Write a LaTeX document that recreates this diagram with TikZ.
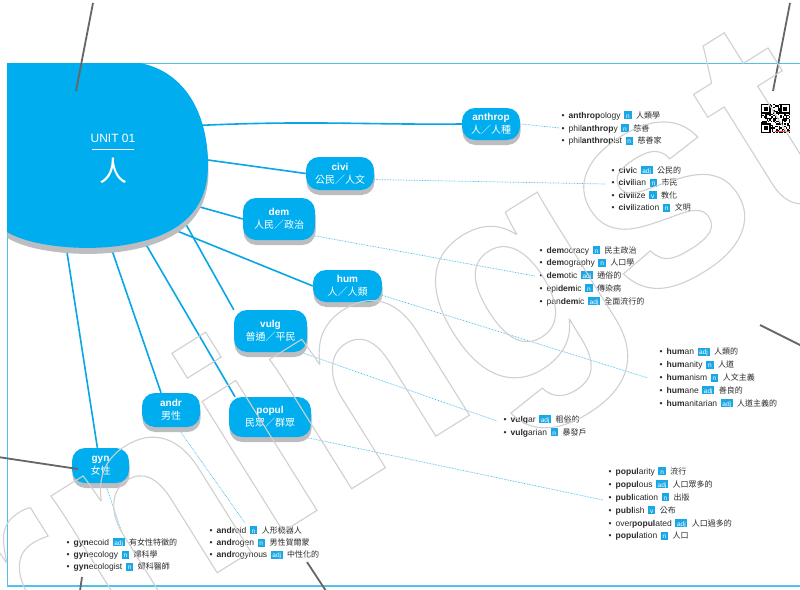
\documentclass[tikz,border=0pt]{standalone}
\usepackage{fontspec}
\setmainfont{Liberation Sans}
\newfontfamily\cjk{Noto Sans CJK TC}
\usetikzlibrary{shadows}
\pgfdeclarelayer{back}
\pgfsetlayers{back,main}
\definecolor{cblue}{HTML}{00AEEF}
\definecolor{lblue}{HTML}{08A6E6}
\definecolor{dblue}{HTML}{3DBAEE}
\definecolor{fblue}{HTML}{4DC2EF}
\definecolor{sgray}{HTML}{BCBDC0}
\definecolor{lgray}{HTML}{666666}
\definecolor{wgray}{HTML}{D0D0D0}
\definecolor{txt}{HTML}{2A2A2A}
\definecolor{tagblue}{HTML}{1AA7E6}
\newcommand\tagbox[2]{{\setlength{\fboxsep}{0pt}\colorbox{tagblue}{\makebox[#1][c]{\rule[-1pt]{0pt}{7.8pt}\color{white}\fontsize{6.5}{7}\selectfont #2}}}}
\newcommand\tn{\tagbox{7.5pt}{n}}
\newcommand\ta{\tagbox{12pt}{adj}}
\newcommand\tv{\tagbox{7.5pt}{v}}
\newcommand\zh[1]{{\cjk\fontsize{8}{10}\selectfont #1}}
\newcommand\ent[5]{#1\textbf{#2}#3\hspace{3.5pt}#4\hspace{4.5pt}\zh{#5}}
\newcommand\wl[4]{\node[wtext] (#1) at (#2,#3) {\textbullet\hspace{4pt}#4};}
\newcommand\zhn[1]{{\cjk\mdseries\fontsize{10}{13}\selectfont #1}}
\tikzset{
  wtext/.style={anchor=base west, inner sep=0pt, text=txt, font=\fontsize{8.5}{10}\selectfont},
  rootnode/.style={fill=cblue, rounded corners=13pt, text=white, align=center, inner sep=0pt,
    font=\bfseries\fontsize{10}{13}\selectfont,
    general shadow={fill=sgray, shadow yshift=-5pt, shadow xshift=0.5pt}},
  conn/.style={draw=lblue, line width=1.6pt},
  dots/.style={draw=dblue, line width=0.7pt, dash pattern=on 0.7pt off 0.9pt},
  leader/.style={draw=lgray, line width=1.8pt},
}
\begin{document}
\begin{tikzpicture}[x=1pt,y=-1pt]
\useasboundingbox (0,0) rectangle (800,589);
% central blob
\begin{scope}[shift={(0.5,6)}]
\fill[sgray] (7,63) -- (140,63) .. controls (186,72) and (208,115) .. (208,165) .. controls (208,212) and (178,238) .. (118,246) .. controls (80,251) and (30,246) .. (7,232) -- cycle;
\end{scope}
\fill[cblue] (7,63) -- (140,63) .. controls (186,72) and (208,115) .. (208,165) .. controls (208,212) and (178,238) .. (118,246) .. controls (80,251) and (30,246) .. (7,232) -- cycle;
\node[text=white, inner sep=0pt, font=\fontsize{12}{12}\selectfont] (unit) at (113,138) {UNIT 01};
\draw[white, line width=0.8pt] (92,149.5) -- (134,149.5);
\node[text=white, inner sep=0pt, font=\cjk\fontsize{28}{28}\selectfont] (ren) at (113,171) {人};
% start points inside the blob
\coordinate (sA) at (150,128);
\coordinate (sC) at (150,152);
\coordinate (sD) at (150,193);
\coordinate (sH) at (150,220);
\coordinate (sV) at (160,178);
\coordinate (sP) at (120,200);
\coordinate (sR) at (105,230);
\coordinate (sG) at (62,220);
% word nodes
\node[rootnode, minimum width=58pt, minimum height=32pt] (anthrop) at (491,124) {anthrop\\\zhn{人／人種}};
\node[rootnode, minimum width=68pt, minimum height=33pt] (civi) at (340,173.5) {civi\\\zhn{公民／人文}};
\node[rootnode, minimum width=72pt, minimum height=42pt] (dem) at (279,219) {dem\\\zhn{人民／政治}};
\node[rootnode, minimum width=69pt, minimum height=32pt] (hum) at (347.5,286) {hum\\\zhn{人／人類}};
\node[rootnode, minimum width=73pt, minimum height=42pt] (vulg) at (270.5,331) {vulg\\\zhn{普通／平民}};
\node[rootnode, minimum width=82pt, minimum height=40pt] (popul) at (270,417) {popul\\\zhn{民眾／群眾}};
\node[rootnode, minimum width=58pt, minimum height=34pt] (andr) at (171,410) {andr\\\zhn{男性}};
\node[rootnode, minimum width=57pt, minimum height=35pt] (gyn) at (100.5,465.5) {gyn\\\zhn{女性}};
% list end points
\coordinate (dA) at (560,128);
\coordinate (dC) at (606,184);
\coordinate (dD) at (535,276);
\coordinate (dH) at (648,378);
\coordinate (dV) at (497,421);
\coordinate (dP) at (603,500);
\coordinate (dR) at (245,523);
\coordinate (dG) at (122,533);
\begin{pgfonlayer}{back}
\fill[white] (0,0) rectangle (800,589);
\draw[fblue, line width=1pt] (800,63) -- (7,63) -- (7,585);
\draw[fblue, line width=2pt] (7,585.5) -- (800,585.5);
\path[conn] (sA) .. controls (300,119) and (350,125) .. (anthrop.west);
\path[conn] (sC) -- (civi.west);
\path[conn] (sD) -- (dem.west);
\path[conn] (sH) -- (hum.west);
\path[conn] (sV) -- (vulg.150);
\path[conn] (sP) -- (popul.150);
\path[conn] (sR) -- (andr.120);
\path[conn] (sG) -- (gyn.100);
\path[dots] (anthrop.east) -- (dA);
\path[dots] (civi.-10) -- (dC);
\path[dots] (dem.-25) -- (dD);
\path[dots] (hum.-15) -- (dH);
\path[dots] (vulg.-35) -- (dV);
\path[dots] (popul.-30) -- (dP);
\path[dots] (andr.-70) -- (dR);
\path[dots] (gyn.-75) -- (dG);
\end{pgfonlayer}
% word lists
\wl{a1}{561.5}{118}{\ent{}{anthrop}{ology}{\tn}{人類學}}
\wl{a2}{561.5}{131}{\ent{phil}{anthrop}{y}{\tn}{慈善}}
\wl{a3}{561.5}{143.5}{\ent{phil}{anthrop}{ist}{\tn}{慈善家}}
\wl{c1}{611.5}{173}{\ent{}{civi}{c}{\ta}{公民的}}
\wl{c2}{611.5}{185.5}{\ent{}{civi}{lian}{\tn}{市民}}
\wl{c3}{611.5}{198}{\ent{}{civi}{lize}{\tv}{教化}}
\wl{c4}{611.5}{210.5}{\ent{}{civi}{lization}{\tn}{文明}}
\wl{d1}{539.5}{253}{\ent{}{dem}{ocracy}{\tn}{民主政治}}
\wl{d2}{539.5}{265.5}{\ent{}{dem}{ography}{\tn}{人口學}}
\wl{d3}{539.5}{278}{\ent{}{dem}{otic}{\ta}{通俗的}}
\wl{d4}{539.5}{291}{\ent{epi}{dem}{ic}{\tn}{傳染病}}
\wl{d5}{539.5}{304}{\ent{pan}{dem}{ic}{\ta}{全面流行的}}
\wl{h1}{659.5}{354.5}{\ent{}{hum}{an}{\ta}{人類的}}
\wl{h2}{659.5}{367.5}{\ent{}{hum}{anity}{\tn}{人道}}
\wl{h3}{659.5}{380.5}{\ent{}{hum}{anism}{\tn}{人文主義}}
\wl{h4}{659.5}{393}{\ent{}{hum}{ane}{\ta}{善良的}}
\wl{h5}{659.5}{406}{\ent{}{hum}{anitarian}{\ta}{人道主義的}}
\wl{v1}{503.5}{422}{\ent{}{vulg}{ar}{\ta}{粗俗的}}
\wl{v2}{503.5}{435}{\ent{}{vulg}{arian}{\tn}{暴發戶}}
\wl{p1}{608.5}{474}{\ent{}{popul}{arity}{\tn}{流行}}
\wl{p2}{608.5}{487}{\ent{}{popul}{ous}{\ta}{人口眾多的}}
\wl{p3}{608.5}{500}{\ent{}{publ}{ication}{\tn}{出版}}
\wl{p4}{608.5}{513}{\ent{}{publ}{ish}{\tv}{公布}}
\wl{p5}{608.5}{526}{\ent{over}{popul}{ated}{\ta}{人口過多的}}
\wl{p6}{608.5}{538.5}{\ent{}{popul}{ation}{\tn}{人口}}
\wl{g1}{66.5}{545}{\ent{}{gyn}{ecoid}{\ta}{有女性特徵的}}
\wl{g2}{66.5}{557.5}{\ent{}{gyn}{ecology}{\tn}{婦科學}}
\wl{g3}{66.5}{569.5}{\ent{}{gyn}{ecologist}{\tn}{婦科醫師}}
\wl{r1}{209.5}{533}{\ent{}{andr}{oid}{\tn}{人形機器人}}
\wl{r2}{209.5}{545.5}{\ent{}{andr}{ogen}{\tn}{男性賀爾蒙}}
\wl{r3}{209.5}{557.5}{\ent{}{andr}{ogynous}{\ta}{中性化的}}
% leader lines
\coordinate (L1a) at (93,3);   \coordinate (L1b) at (76,91);
\coordinate (L2a) at (790,3);  \coordinate (L2b) at (773,91);
\coordinate (L3a) at (760,325);\coordinate (L3b) at (802,346);
\coordinate (L4a) at (-2,457); \coordinate (L4b) at (78,469);
\coordinate (L5a) at (82,577); \coordinate (L5b) at (80,591);
\coordinate (L6a) at (307,562);\coordinate (L6b) at (326,591);
\path[leader] (L1a) -- (L1b);
\path[leader] (L2a) -- (L2b);
\path[leader] (L3a) -- (L3b);
\path[leader] (L4a) -- (L4b);
\path[leader] (L5a) -- (L5b);
\path[leader] (L6a) -- (L6b);
% QR code
\begin{scope}[shift={(761,104)}]
\pgfmathsetseed{12}
\foreach \i in {0,...,20}{\foreach \j in {0,...,20}{%
  \pgfmathrandominteger{\rr}{0}{1}%
  \ifnum\rr=1 \fill[black] (\i*1.38,\j*1.38) rectangle ++(1.39,1.39);\fi}}
\foreach \px/\py in {0/0, 19.32/0, 0/19.32}{%
  \fill[white] (\px-0.5,\py-0.5) rectangle ++(10.7,10.7);
  \fill[black] (\px,\py) rectangle ++(9.66,9.66);
  \fill[white] (\px+1.38,\py+1.38) rectangle ++(6.9,6.9);
  \fill[black] (\px+2.76,\py+2.76) rectangle ++(4.14,4.14);}
\fill[red!75] (14,26.5) rectangle (29,28.2);
\end{scope}
% watermark
\node[anchor=base west, rotate=32, inner sep=0pt, text=wgray, font=\bfseries\fontsize{290}{290}\selectfont] (wm) at (20,696) {\special{pdf:literal direct 1 Tr 1.1 w}rningst\special{pdf:literal direct 0 Tr}};
\end{tikzpicture}
\end{document}
